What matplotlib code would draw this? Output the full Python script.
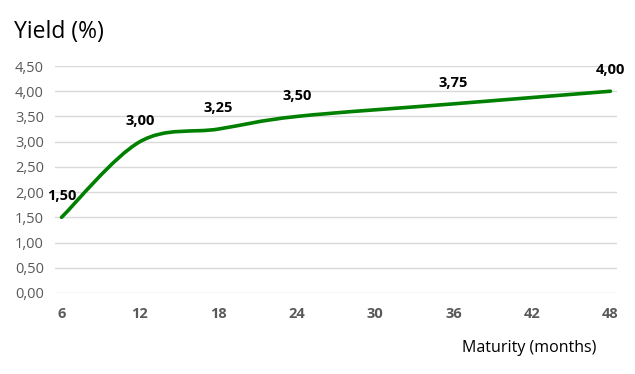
import matplotlib
matplotlib.use("Agg")
import matplotlib.pyplot as plt
from matplotlib.path import Path
from matplotlib.patches import PathPatch

plt.rcParams['font.family'] = ['Open Sans', 'DejaVu Sans']

maturity = [6, 12, 18, 24, 36, 48]
yields = [1.50, 3.00, 3.25, 3.50, 3.75, 4.00]
x_ticks = [6, 12, 18, 24, 30, 36, 42, 48]
y_ticks = [0.0, 0.5, 1.0, 1.5, 2.0, 2.5, 3.0, 3.5, 4.0, 4.5]

fig = plt.figure(figsize=(6.35, 3.74), dpi=100)
ax = fig.add_axes([0.0866, 0.2166, 0.885, 0.6069])

# Smoothed line (Catmull-Rom style Bezier, like spreadsheet "smoothed line")
n = len(maturity)
verts = [(maturity[0], yields[0])]
codes = [Path.MOVETO]
for i in range(n - 1):
    p0 = (maturity[max(i - 1, 0)], yields[max(i - 1, 0)])
    p1 = (maturity[i], yields[i])
    p2 = (maturity[i + 1], yields[i + 1])
    p3 = (maturity[min(i + 2, n - 1)], yields[min(i + 2, n - 1)])
    c1 = (p1[0] + (p2[0] - p0[0]) / 6, p1[1] + (p2[1] - p0[1]) / 6)
    c2 = (p2[0] - (p3[0] - p1[0]) / 6, p2[1] - (p3[1] - p1[1]) / 6)
    verts += [c1, c2, p2]
    codes += [Path.CURVE4] * 3
patch = PathPatch(Path(verts, codes), facecolor='none', edgecolor='#008000',
                  lw=2.6, capstyle='round', joinstyle='round', zorder=3)
ax.add_patch(patch)

for xv, yv in zip(maturity, yields):
    ax.annotate(f"{yv:.2f}".replace('.', ','), (xv, yv), xytext=(0, 10),
                textcoords='offset points', ha='center', va='bottom',
                fontsize=10.5, fontweight='bold', color='black')

ax.set_xlim(5.5, 48.5)
ax.set_ylim(0, 4.5)
ax.set_xticks(x_ticks)
ax.set_xticklabels([str(t) for t in x_ticks], fontweight='bold', color='#595959', fontsize=10.5)
ax.set_yticks(y_ticks)
ax.set_yticklabels([f"{t:.2f}".replace('.', ',') for t in y_ticks], color='#595959', fontsize=10.5)
ax.tick_params(axis='both', length=0)
ax.tick_params(axis='x', pad=10)
ax.tick_params(axis='y', pad=8)
ax.grid(axis='y', color='#d9d9d9', lw=1)
ax.set_axisbelow(True)
for s in ax.spines.values():
    s.set_visible(False)

fig.text(14 / 635, 1 - 32 / 374, "Yield (%)", fontsize=16.5, color='black', ha='left', va='center')
fig.text(596 / 635, 1 - 348 / 374, "Maturity (months)", fontsize=11.5, color='black', ha='right', va='center')

fig.savefig("out.png", dpi=100)
